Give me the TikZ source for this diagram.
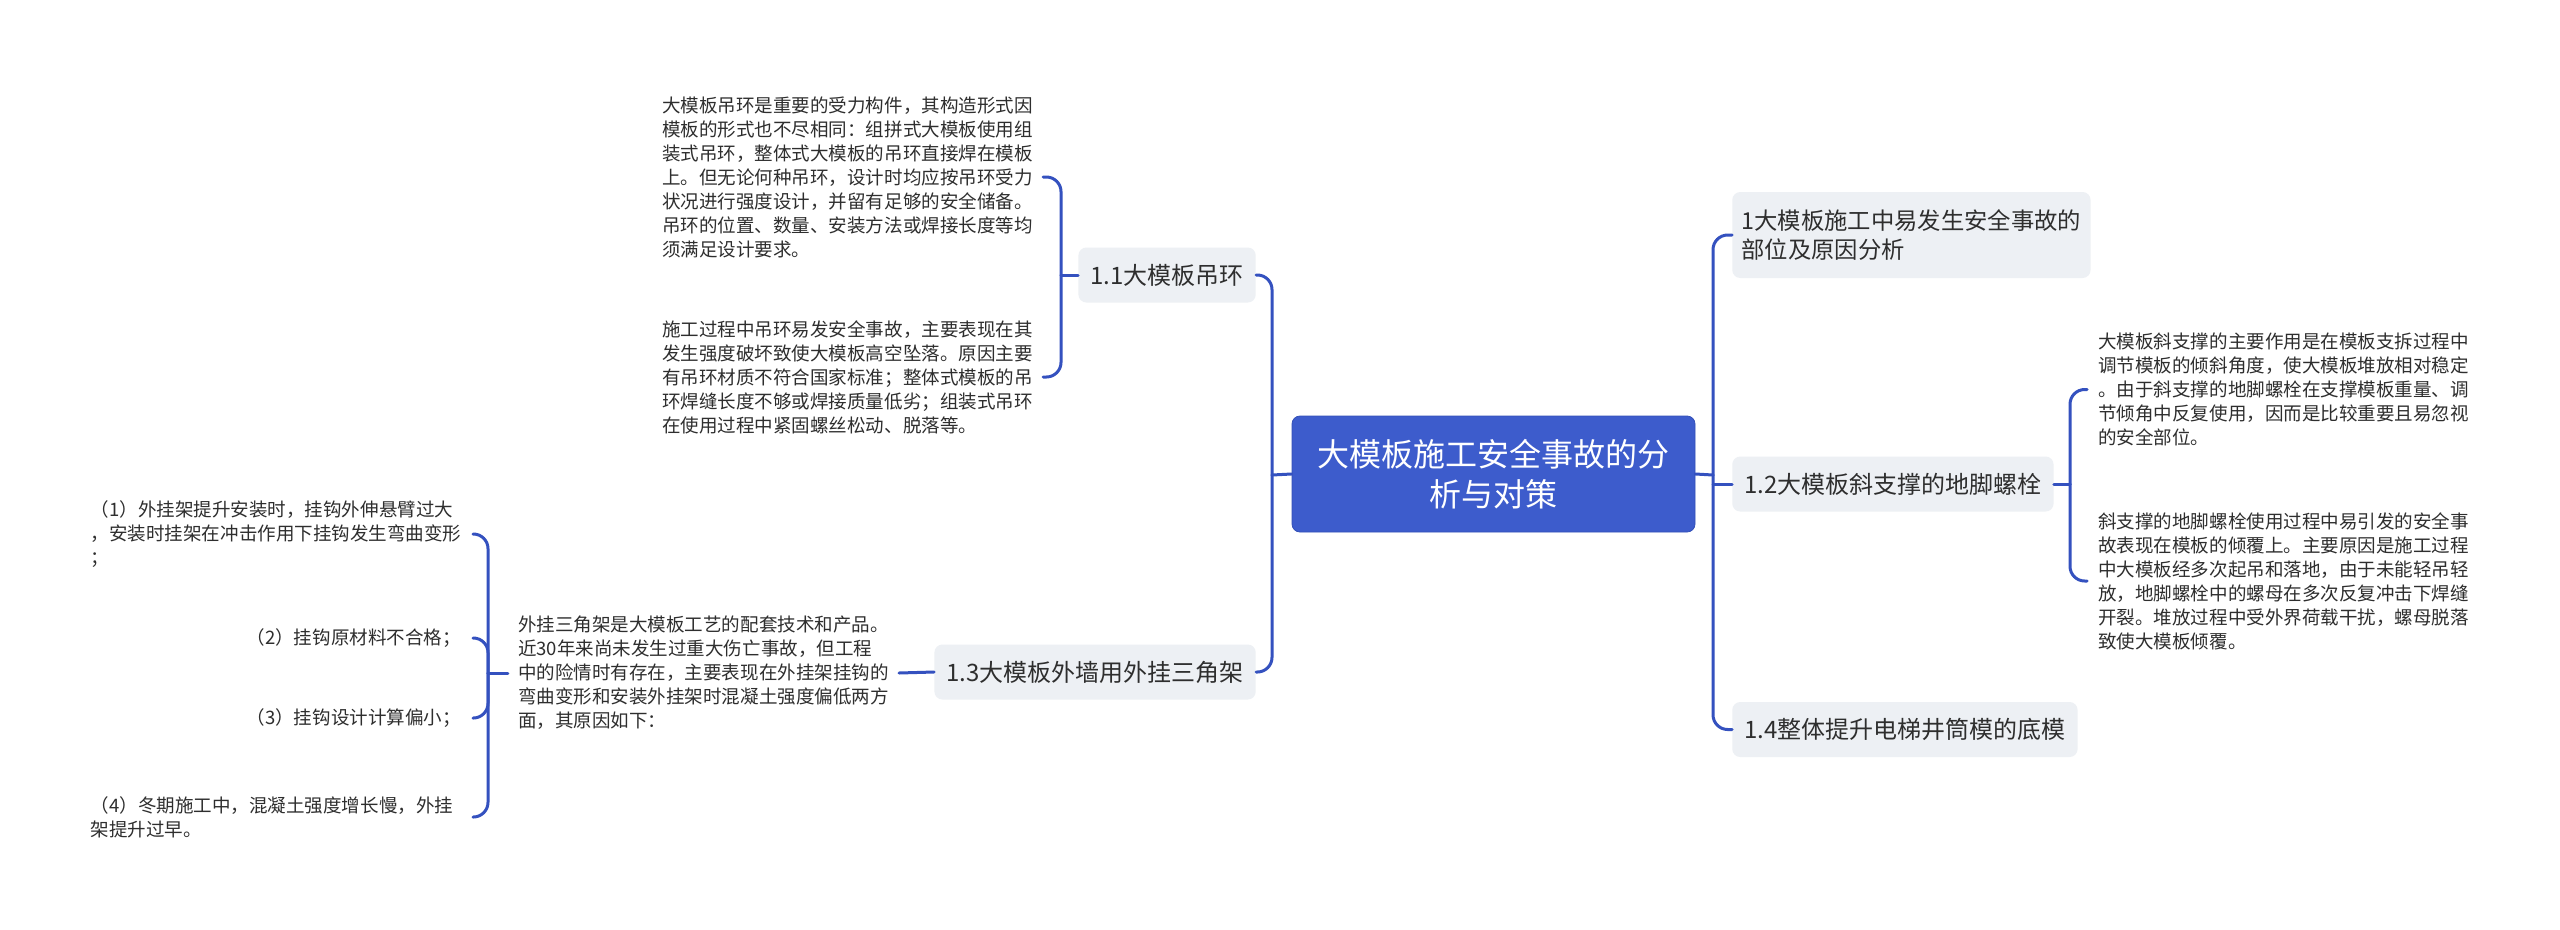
\documentclass[tikz,border=0pt]{standalone}
\usepackage{fontspec}
\setmainfont{Noto Sans CJK SC}
\definecolor{conn}{HTML}{3451BF}
\definecolor{rootfill}{HTML}{3D5CCC}
\definecolor{rootline}{HTML}{3350B8}
\definecolor{nodefill}{HTML}{EDF0F4}
\definecolor{txt}{HTML}{2E2E2E}
\begin{document}
\begin{tikzpicture}[x=0.75pt,y={(0pt,-0.75pt)},
  conn/.style={draw=conn, line width=2.25pt, rounded corners=11pt, line cap=round},
  body/.style={font=\fontsize{13.9pt}{18pt}\selectfont, text=txt, align=left, inner xsep=7.5pt, inner ysep=2pt},
  item/.style={body, inner xsep=9pt},
  topic/.style={fill=nodefill, rounded corners=6pt, font=\fontsize{18pt}{21.3pt}\selectfont, text=txt, inner xsep=9pt, inner ysep=4pt, minimum height=41.25pt},
  rootbox/.style={fill=rootfill, draw=rootline, line width=0.6pt, rounded corners=6pt, text=white, font=\fontsize{24pt}{30pt}\selectfont, align=center, minimum width=302.25pt, minimum height=87pt}
]
\fill[white] (0,0) rectangle (2560,929);
\useasboundingbox (0,0) rectangle (2560,929);

% root
\node[rootbox] (root) at (1493.5,474) {大模板施工安全事故的分\\析与对策};

% right topics
\node[topic, anchor=west, align=left, minimum height=64.5pt, inner xsep=7pt, font=\fontsize{17.5pt}{21.3pt}\selectfont] (n1) at (1732,235) {1大模板施工中易发生安全事故的\\部位及原因分析};
\node[topic, anchor=west] (n12) at (1732,484) {1.2大模板斜支撑的地脚螺栓};
\node[topic, anchor=west] (n14) at (1732,729.5) {1.4整体提升电梯井筒模的底模};

% left topics
\node[topic, anchor=east] (n11) at (1256,275) {1.1大模板吊环};
\node[topic, anchor=east] (n13) at (1256,672) {1.3大模板外墙用外挂三角架};

% 1.1 children
\node[body, anchor=east] (tA) at (1043,177) {大模板吊环是重要的受力构件，其构造形式因\\模板的形式也不尽相同：组拼式大模板使用组\\装式吊环，整体式大模板的吊环直接焊在模板\\上。但无论何种吊环，设计时均应按吊环受力\\状况进行强度设计，并留有足够的安全储备。\\吊环的位置、数量、安装方法或焊接长度等均\\须满足设计要求。};
\node[body, anchor=east] (tB) at (1043,377) {施工过程中吊环易发安全事故，主要表现在其\\发生强度破坏致使大模板高空坠落。原因主要\\有吊环材质不符合国家标准；整体式模板的吊\\环焊缝长度不够或焊接质量低劣；组装式吊环\\在使用过程中紧固螺丝松动、脱落等。};

% 1.2 children
\node[body, anchor=west, inner xsep=8.25pt] (tC) at (2087,389.5) {大模板斜支撑的主要作用是在模板支拆过程中\\调节模板的倾斜角度，使大模板堆放相对稳定\\。由于斜支撑的地脚螺栓在支撑模板重量、调\\节倾角中反复使用，因而是比较重要且易忽视\\的安全部位。};
\node[body, anchor=west, inner xsep=8.25pt] (tD) at (2087,581) {斜支撑的地脚螺栓使用过程中易引发的安全事\\故表现在模板的倾覆上。主要原因是施工过程\\中大模板经多次起吊和落地，由于未能轻吊轻\\放，地脚螺栓中的螺母在多次反复冲击下焊缝\\开裂。堆放过程中受外界荷载干扰，螺母脱落\\致使大模板倾覆。};

% 1.3 child
\node[body, anchor=east] (tE) at (899,673) {外挂三角架是大模板工艺的配套技术和产品。\\近30年来尚未发生过重大伤亡事故，但工程\\中的险情时有存在，主要表现在外挂架挂钩的\\弯曲变形和安装外挂架时混凝土强度偏低两方\\面，其原因如下：};

% items
\node[item, anchor=east, text width=277.5pt] (i1) at (473,534) {（1）外挂架提升安装时，挂钩外伸悬臂过大\\，安装时挂架在冲击作用下挂钩发生弯曲变形\\；};
\node[item, anchor=east] (i2) at (473,638) {（2）挂钩原材料不合格；};
\node[item, anchor=east] (i3) at (473,718) {（3）挂钩设计计算偏小；};
\node[item, anchor=east, text width=277.5pt] (i4) at (473,817) {（4）冬期施工中，混凝土强度增长慢，外挂\\架提升过早。};

% junction coordinates
\coordinate (rt) at (1713,475);
\coordinate (lt) at (1272,475);
\coordinate (b11) at (1061,275);
\coordinate (b12) at (2070,484);
\coordinate (b13) at (488,673);

% connectors
\draw[conn] (root.east) -- (rt);
\draw[conn] (rt) |- (n1.west);
\draw[conn] (rt |- n12.west) -- (n12.west);
\draw[conn] (rt) |- (n14.west);

\draw[conn] (root.west) -- (lt);
\draw[conn] (lt) |- (n11.east);
\draw[conn] (lt) |- (n13.east);

\draw[conn] (n11.west) -- (b11);
\draw[conn] (b11) |- (tA.east);
\draw[conn] (b11) |- (tB.east);

\draw[conn] (n12.east) -- (b12);
\draw[conn] (b12) |- (tC.west);
\draw[conn] (b12) |- (tD.west);

\draw[conn] (n13.west) -- (tE.east);
\draw[conn] (tE.west) -- (b13);
\draw[conn] (b13) |- (i1.east);
\draw[conn] (b13) |- (i2.east);
\draw[conn] (b13) |- (i3.east);
\draw[conn] (b13) |- (i4.east);
\end{tikzpicture}
\end{document}
